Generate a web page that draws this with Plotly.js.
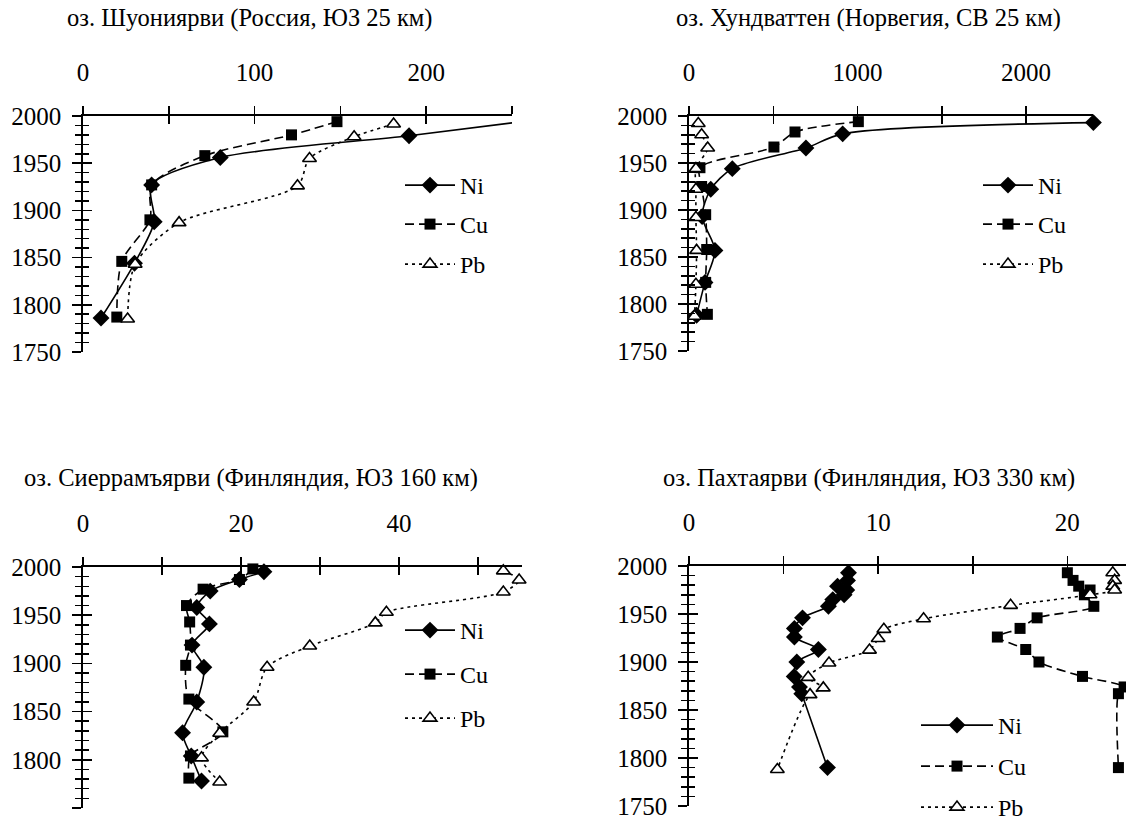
<!DOCTYPE html>
<html><head><meta charset="utf-8">
<script src="https://cdn.plot.ly/plotly-3.0.1.min.js"></script>
<style>body{margin:0;background:#fff;} #chart{width:1126px;height:821px;}</style>
</head><body><div id="chart"></div>
<script>
// ---------- Data ----------
const titles = [
  "оз. Шуониярви (Россия, ЮЗ 25 км)",
  "оз. Хундваттен (Норвегия, СВ 25 км)",
  "оз. Сиеррамъярви (Финляндия, ЮЗ 160 км)",
  "оз. Пахтаярви (Финляндия, ЮЗ 330 км)"
];
const seriesNames = ["Ni", "Cu", "Pb"];

// Panel 1: Шуониярви
const p1NiYear = [1993, 1979, 1956, 1927, 1888, 1844, 1786];
const p1NiVal  = [251, 190, 80, 40, 41.5, 30, 10.5];
const p1CuYear = [1994, 1980, 1958, 1927, 1890, 1846, 1787];
const p1CuVal  = [148, 121.5, 71, 40, 39, 22.6, 19.7];
const p1PbYear = [1991.5, 1978, 1955, 1926, 1887, 1843, 1785];
const p1PbVal  = [181, 158, 132, 125, 56, 30.4, 26];

// Panel 2: Хундваттен
const p2NiYear = [1993, 1981, 1966, 1944, 1922, 1893, 1857, 1823, 1788];
const p2NiVal  = [2400, 912, 694, 257, 129, 78, 154, 95, 45];
const p2CuYear = [1994, 1983, 1967, 1945, 1925, 1895, 1858, 1823, 1789];
const p2CuVal  = [1005, 629, 504, 65, 75, 99, 105, 99, 109];
const p2PbYear = [1992, 1980, 1966, 1944, 1922, 1892, 1857, 1821, 1787];
const p2PbVal  = [55, 75, 111, 41, 41, 41, 45, 41, 33];

// Panel 3: Сиеррамъярви
const p3NiYear = [1995, 1987, 1975, 1958, 1941, 1919, 1896, 1860, 1828, 1804, 1778];
const p3NiVal  = [22.9, 19.8, 16.1, 14.4, 16.0, 13.8, 15.3, 14.4, 12.6, 13.7, 15.0];
const p3CuYear = [1998, 1987, 1977, 1960, 1943, 1919, 1898, 1863, 1829, 1804, 1781];
const p3CuVal  = [21.5, 19.8, 15.2, 13.1, 13.5, 13.6, 13.0, 13.4, 17.7, 13.6, 13.4];
const p3PbYear = [1996, 1986.5, 1974, 1953, 1942, 1918, 1896, 1860, 1827.5, 1802, 1777];
const p3PbVal  = [53.2, 55.2, 53.2, 38.4, 37.0, 28.7, 23.3, 21.6, 17.3, 15.0, 17.3];

// Panel 4: Пахтаярви
const p4NiYear = [1993, 1985, 1979, 1975, 1970, 1965, 1958, 1946, 1935, 1926, 1913, 1900, 1885, 1874, 1867, 1790];
const p4NiVal  = [8.43, 8.38, 7.85, 8.34, 8.2, 7.6, 7.37, 6.0, 5.57, 5.57, 6.84, 5.7, 5.56, 5.84, 5.96, 7.32];
const p4CuYear = [1993, 1985, 1979, 1975, 1970, 1958, 1946, 1935, 1926, 1913, 1900, 1885, 1874, 1867, 1790];
const p4CuVal  = [20.0, 20.3, 20.6, 21.2, 20.9, 21.4, 18.4, 17.5, 16.3, 17.8, 18.5, 20.8, 23.0, 22.7, 22.7];
const p4PbYear = [1993, 1985, 1979, 1975, 1970, 1959, 1945, 1934, 1924.5, 1912.4, 1899, 1884, 1873, 1866, 1788];
const p4PbVal  = [22.4, 22.5, 22.4, 22.5, 21.2, 17.0, 12.4, 10.3, 10.0, 9.54, 7.4, 6.3, 7.1, 6.4, 4.67];

const panels = [
  {ni:[p1NiYear,p1NiVal], cu:[p1CuYear,p1CuVal], pb:[p1PbYear,p1PbVal]},
  {ni:[p2NiYear,p2NiVal], cu:[p2CuYear,p2CuVal], pb:[p2PbYear,p2PbVal]},
  {ni:[p3NiYear,p3NiVal], cu:[p3CuYear,p3CuVal], pb:[p3PbYear,p3PbVal]},
  {ni:[p4NiYear,p4NiVal], cu:[p4CuYear,p4CuVal], pb:[p4PbYear,p4PbVal]}
];
const xRanges = [[0,250],[0,2400],[0,55.5],[0,23.1]];
const xMajor  = [100, 1000, 20, 10];
const xMinor  = [50, 500, 10, 5];

// ---------- Layout geometry (pixels) ----------
const W = 1126, H = 821;
const FONT = "'Liberation Serif', 'DejaVu Serif', serif";
const TICK_SIZE = 25, TITLE_SIZE = 24.5, LEG_SIZE = 24;
const boxes = [ // left, right, top, bottom
  [83, 512, 116, 352],
  [689, 1093.4, 116, 351],
  [83, 521.5, 567, 808],
  [689, 1126, 566, 806]
];
const titlePos = [[250,18],[868,18],[251,478],[869,478]];
const legendX = [400, 978, 400, 916];
const legendRows = [[187,226,266],[187,226,266],[632,676,720],[727,768,809]];
const legendItemW = [50, 50, 50, 72];

const fx = v => v / W;
const fy = v => 1 - v / H;

const styles = {
  Ni: {line:{color:'#000', width:1.6, dash:'solid'}, marker:{symbol:'diamond', size:13, color:'#000', line:{width:0}}},
  Cu: {line:{color:'#000', width:1.6, dash:'9px,5px'}, marker:{symbol:'square', size:11, color:'#000', line:{width:0}}},
  Pb: {line:{color:'#000', width:1.6, dash:'3px,4px'}, marker:{symbol:'triangle-up', size:12, color:'#fff', line:{width:1.6, color:'#000'}}}
};

const data = [];
const layout = {
  width: W, height: H,
  margin: {l:0, r:0, t:0, b:0, autoexpand:false},
  paper_bgcolor: '#fff', plot_bgcolor: 'rgba(0,0,0,0)',
  font: {family: FONT, size: TICK_SIZE, color: '#000'},
  showlegend: true,
  annotations: [],
  hovermode: false
};

let legCount = 0;
panels.forEach((p, i) => {
  const n = i + 1;
  const xa = n === 1 ? 'x' : 'x' + n;
  const ya = n === 1 ? 'y' : 'y' + n;
  const xo = 'x' + (n + 4), yo = 'y' + (n + 4);
  const b = boxes[i];

  const keys = [['ni','Ni'],['cu','Cu'],['pb','Pb']];
  keys.forEach(([k, name], j) => {
    const s = styles[name];
    legCount++;
    const lg = legCount === 1 ? 'legend' : 'legend' + legCount;
    data.push({
      type: 'scatter', mode: 'lines+markers', name: name,
      x: p[k][1], y: p[k][0], xaxis: xa, yaxis: ya,
      line: Object.assign({shape:'spline', smoothing:0.8}, s.line),
      marker: s.marker, cliponaxis: false,
      legend: lg
    });
    layout[lg] = {
      x: fx(legendX[i]), y: fy(legendRows[i][j] - 24), xanchor:'left', yanchor:'top',
      bgcolor:'rgba(0,0,0,0)', borderwidth:0,
      font: {family: FONT, size: LEG_SIZE, color:'#000'},
      itemwidth: legendItemW[i], itemclick:false, itemdoubleclick:false
    };
  });
  data.push({type:'scatter', mode:'markers', x:[], y:[], xaxis:xo, yaxis:yo, showlegend:false, hoverinfo:'skip'});

  const xdom = [fx(b[0]), fx(b[1])];
  const ydom = [fy(b[3]), fy(b[2])];
  const common = {showgrid:false, zeroline:false, fixedrange:true, tickcolor:'#000', tickwidth:1.5};

  layout['xaxis' + (n === 1 ? '' : n)] = Object.assign({}, common, {
    domain: xdom, anchor: ya, side: 'top', range: xRanges[i], autorange:false,
    showline: true, linecolor: '#000', linewidth: 1.8,
    ticks: 'outside', ticklen: 8, dtick: xMajor[i], tick0: 0,
    minor: {ticks:'outside', ticklen: 8, dtick: xMinor[i], tick0: 0, tickcolor:'#000', tickwidth:1.5},
    ticklabelstandoff: 15,
    tickfont: {family: FONT, size: TICK_SIZE, color:'#000'}
  });
  layout['yaxis' + (n === 1 ? '' : n)] = Object.assign({}, common, {
    domain: ydom, anchor: xa, side: 'left', range: [1750, 2000], autorange:false,
    showline: true, linecolor: '#000', linewidth: 1.8,
    ticks: 'outside', ticklen: 9, dtick: 50, tick0: 1750,
    minor: {ticks:'outside', ticklen: 6, dtick: 10, tick0: 1750, tickcolor:'#000', tickwidth:1.5},
    ticklabelstandoff: 6,
    tickfont: {family: FONT, size: TICK_SIZE, color:'#000'}
  });
  layout['xaxis' + (n + 4)] = Object.assign({}, common, {
    overlaying: xa, anchor: ya, side: 'top', range: xRanges[i], autorange:false,
    showline: false, showticklabels: false,
    ticks: 'inside', ticklen: 8, dtick: xMinor[i], tick0: 0
  });
  layout['yaxis' + (n + 4)] = Object.assign({}, common, {
    overlaying: ya, anchor: xa, side: 'left', range: [1750, 2000], autorange:false,
    showline: false, showticklabels: false,
    ticks: 'inside', ticklen: 9, dtick: 50, tick0: 1750,
    minor: {ticks:'inside', ticklen: 6, dtick: 10, tick0: 1750, tickcolor:'#000', tickwidth:1.5}
  });

  layout.annotations.push({
    text: titles[i], xref:'paper', yref:'paper',
    x: fx(titlePos[i][0]), y: fy(titlePos[i][1]), xanchor:'center', yanchor:'middle',
    showarrow:false, font:{family: FONT, size: TITLE_SIZE, color:'#000'}
  });
});

Plotly.newPlot('chart', data, layout, {staticPlot:true, displayModeBar:false});
</script>
</body></html>
